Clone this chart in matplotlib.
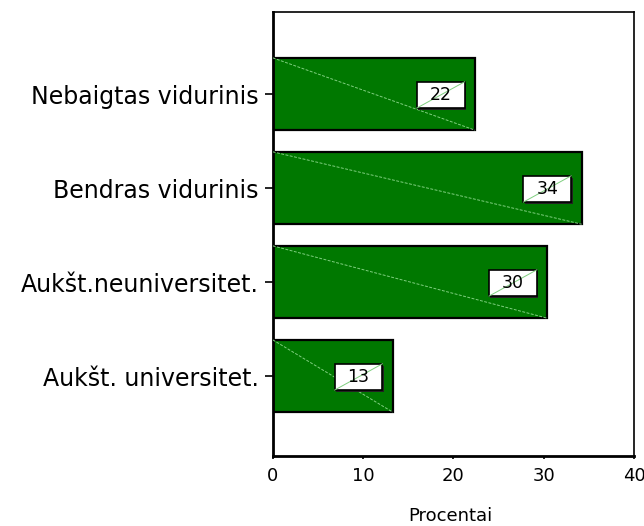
import matplotlib
matplotlib.use("Agg")
import matplotlib.pyplot as plt
from matplotlib.patches import Rectangle

categories = ["Nebaigtas vidurinis", "Bendras vidurinis", "Aukšt.neuniversitet.", "Aukšt. universitet."]
values = [22.4, 34.2, 30.4, 13.3]
value_labels = ["22", "34", "30", "13"]
x_ticks = [0, 10, 20, 30, 40]
x_label = "Procentai"

plt.rcParams['font.family'] = ['DejaVu Sans']

fig = plt.figure(figsize=(6.44, 5.26), dpi=100)
ax = fig.add_axes([272.7/644, 1 - 456/526, (634 - 272.7)/644, (456 - 12)/526])

bar_h = 0.77
pos = list(range(len(categories)))
bar_color = "#007800"
line_color = "#7fcf7f"

ax.barh(pos, values, height=bar_h, color=bar_color, edgecolor="black", linewidth=1.6, zorder=2)

# diagonal lines inside bars and value boxes
box_w = 5.3
box_h = 0.28
gap = 1.15
for y, v, lab in zip(pos, values, value_labels):
    ax.plot([0, v], [y - bar_h / 2, y + bar_h / 2], color=line_color, lw=0.7,
            ls=(0, (3, 1.5)), zorder=3)
    x1 = v - gap
    x0 = x1 - box_w
    y0 = y - box_h / 2 + 0.01
    # shadow
    ax.add_patch(Rectangle((x0 + 0.15, y0 + 0.02), box_w, box_h, facecolor="#222222",
                           edgecolor="none", zorder=4))
    ax.add_patch(Rectangle((x0, y0), box_w, box_h, facecolor="white",
                           edgecolor="black", linewidth=1.2, zorder=5))
    ax.plot([x0, x1], [y0 + box_h, y0], color=line_color, lw=0.7, zorder=6)
    ax.text(x0 + box_w / 2, y0 + box_h / 2 + 0.005, lab, ha="center", va="center",
            fontsize=12.5, color="black", zorder=7)

ax.set_xlim(0, 40)
ax.set_ylim(3 + 80/94, -82/94)
ax.set_xticks(x_ticks)
ax.set_xticklabels([str(t) for t in x_ticks], fontsize=13)
ax.set_yticks(pos)
ax.set_yticklabels(categories, fontsize=17)
ax.tick_params(axis="y", direction="out", length=6, width=1.2, pad=4)
ax.tick_params(axis="x", direction="out", length=2, width=1.2, pad=6)
for s in ax.spines.values():
    s.set_linewidth(1.2)
ax.spines["left"].set_linewidth(2)
ax.spines["bottom"].set_linewidth(2)

fig.text(450/644, 1 - 516/526, x_label, ha="center", va="center", fontsize=13)

fig.savefig("out.png", dpi=100)
